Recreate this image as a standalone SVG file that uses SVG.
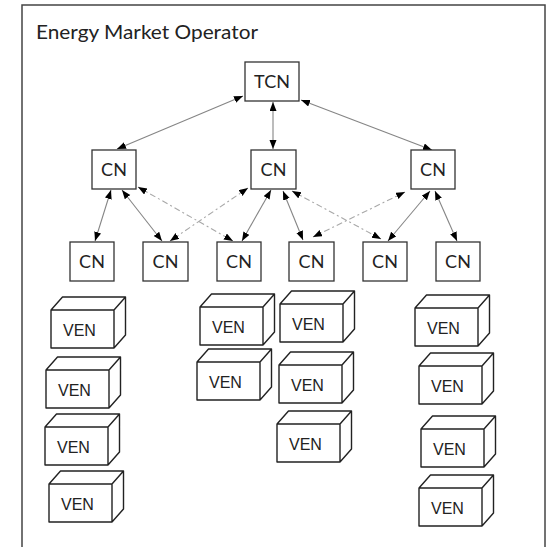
<svg xmlns="http://www.w3.org/2000/svg" width="551" height="547" viewBox="0 0 551 547">
<style>
.frame{fill:none;stroke:#444;stroke-width:1.5}
.box{fill:#fff;stroke:#333;stroke-width:1.3}
.lbl{font-family:Lato,"Liberation Sans",sans-serif;font-size:18px;fill:#222;text-anchor:middle}
.ven{font-family:"Liberation Sans",Arial,sans-serif;font-size:16px;fill:#222}
.cube{fill:#fff;stroke:#222;stroke-width:1.4;stroke-linejoin:round}
.c{stroke:#858585;stroke-width:1.1;fill:none;marker-start:url(#ah);marker-end:url(#ah)}
.d{stroke:#a8a8a8;stroke-width:1.1;fill:none;stroke-dasharray:6 3 2 3;marker-start:url(#ah);marker-end:url(#ah)}
</style>
<defs>
<marker id="ah" markerUnits="userSpaceOnUse" markerWidth="10" markerHeight="8" refX="9" refY="3.5" orient="auto-start-reverse">
<path d="M0,0 L9,3.5 L0,7 z" fill="#000"/>
</marker>
<path id="cubeShape" d="M0,0 H63 V38 H0 Z M0,0 L11.5,-13 H74.5 L63,0 M74.5,-13 V25 L63,38"/>
</defs>
<rect class="frame" x="22" y="5" width="523" height="570"/>
<text x="36" y="39" font-family="Lato,'Liberation Sans',sans-serif" font-size="20" fill="#222" textLength="222" lengthAdjust="spacingAndGlyphs">Energy Market Operator</text>

<g id="connectors">
<line class="c" x1="117" y1="149" x2="243" y2="96"/>
<line class="c" x1="273" y1="102" x2="273" y2="149"/>
<line class="c" x1="301" y1="100" x2="432" y2="150"/>
<line class="c" x1="111" y1="190" x2="95" y2="241"/>
<line class="c" x1="122" y1="190" x2="162" y2="241"/>
<line class="c" x1="271" y1="190" x2="242" y2="241"/>
<line class="c" x1="283" y1="191" x2="303" y2="240"/>
<line class="c" x1="430" y1="191" x2="388" y2="241"/>
<line class="c" x1="435" y1="191" x2="457" y2="241"/>
<line class="d" x1="138" y1="187" x2="233" y2="241"/>
<line class="d" x1="248" y1="188" x2="170" y2="241"/>
<line class="d" x1="292" y1="191" x2="381" y2="239"/>
<line class="d" x1="405" y1="192" x2="313" y2="237"/>
</g>

<g id="tcn"><rect class="box" x="245" y="62" width="54" height="39"/><text class="lbl" x="272" y="88">TCN</text></g>
<g id="cn-a"><rect class="box" x="92" y="150" width="44" height="39"/><text class="lbl" x="114" y="176">CN</text></g>
<g id="cn-b"><rect class="box" x="251" y="150" width="45" height="39"/><text class="lbl" x="273.5" y="176">CN</text></g>
<g id="cn-c"><rect class="box" x="411" y="150" width="44" height="39"/><text class="lbl" x="433" y="176">CN</text></g>
<g id="cn-1"><rect class="box" x="70" y="242" width="44" height="39"/><text class="lbl" x="92" y="268">CN</text></g>
<g id="cn-2"><rect class="box" x="143" y="242" width="45" height="39"/><text class="lbl" x="165.5" y="268">CN</text></g>
<g id="cn-3"><rect class="box" x="217" y="242" width="44" height="39"/><text class="lbl" x="239" y="268">CN</text></g>
<g id="cn-4"><rect class="box" x="289" y="242" width="45" height="39"/><text class="lbl" x="311.5" y="268">CN</text></g>
<g id="cn-5"><rect class="box" x="363" y="242" width="44" height="39"/><text class="lbl" x="385" y="268">CN</text></g>
<g id="cn-6"><rect class="box" x="436" y="242" width="44" height="39"/><text class="lbl" x="458" y="268">CN</text></g>

<g id="ven-1-1" transform="translate(51,310)"><use href="#cubeShape" class="cube"/><text class="ven" x="12" y="26">VEN</text></g>
<g id="ven-1-2" transform="translate(46,370)"><use href="#cubeShape" class="cube"/><text class="ven" x="12" y="26">VEN</text></g>
<g id="ven-1-3" transform="translate(45,427)"><use href="#cubeShape" class="cube"/><text class="ven" x="12" y="26">VEN</text></g>
<g id="ven-1-4" transform="translate(49,484)"><use href="#cubeShape" class="cube"/><text class="ven" x="12" y="26">VEN</text></g>
<g id="ven-2-1" transform="translate(200,307)"><use href="#cubeShape" class="cube"/><text class="ven" x="12" y="26">VEN</text></g>
<g id="ven-2-2" transform="translate(197,362)"><use href="#cubeShape" class="cube"/><text class="ven" x="12" y="26">VEN</text></g>
<g id="ven-3-1" transform="translate(280,304)"><use href="#cubeShape" class="cube"/><text class="ven" x="12" y="26">VEN</text></g>
<g id="ven-3-2" transform="translate(279,365)"><use href="#cubeShape" class="cube"/><text class="ven" x="12" y="26">VEN</text></g>
<g id="ven-3-3" transform="translate(277,424)"><use href="#cubeShape" class="cube"/><text class="ven" x="12" y="26">VEN</text></g>
<g id="ven-4-1" transform="translate(415,308)"><use href="#cubeShape" class="cube"/><text class="ven" x="12" y="26">VEN</text></g>
<g id="ven-4-2" transform="translate(419,366)"><use href="#cubeShape" class="cube"/><text class="ven" x="12" y="26">VEN</text></g>
<g id="ven-4-3" transform="translate(421,429)"><use href="#cubeShape" class="cube"/><text class="ven" x="12" y="26">VEN</text></g>
<g id="ven-4-4" transform="translate(419,488)"><use href="#cubeShape" class="cube"/><text class="ven" x="12" y="26">VEN</text></g>
</svg>
